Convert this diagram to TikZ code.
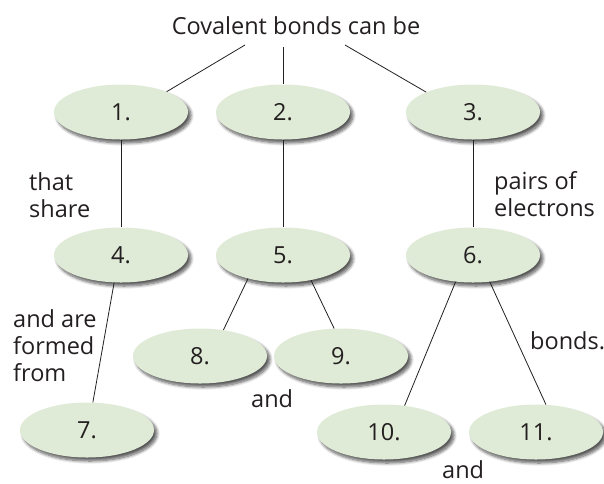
\documentclass[tikz,border=0pt]{standalone}
\usepackage{fontspec}
\setmainfont{Open Sans}
\usetikzlibrary{shapes.geometric,shadows.blur}
\definecolor{ellfill}{HTML}{DFEBD6}
\definecolor{ink}{HTML}{231F20}
\tikzset{
  bubble/.style={ellipse, fill=ellfill, minimum width=134pt, minimum height=55pt, inner sep=0pt,
    text=ink, font=\fontsize{23.5}{27}\selectfont,
    blur shadow={shadow xshift=3pt, shadow yshift=-3.5pt, shadow blur steps=8, shadow blur radius=3pt, shadow opacity=65}},
  lbl/.style={inner sep=0pt, text=ink, align=left, anchor=north west, font=\fontsize{23.5}{27}\selectfont},
  conn/.style={draw=ink, line width=0.8pt}
}
\begin{document}
\begin{tikzpicture}[x=1pt,y=-1pt]
\useasboundingbox (0,0) rectangle (604,483);
\node[lbl, anchor=north] (title) at (296,16) {Covalent bonds can be};
\coordinate (t1) at (245,45);
\coordinate (t2) at (283,47);
\coordinate (t3) at (345,45);
\node[bubble] (e1) at (121,112) {1.};
\node[bubble] (e2) at (283,112) {2.};
\node[bubble] (e3) at (473,112) {3.};
\node[bubble] (e4) at (121,255) {4.};
\node[bubble] (e5) at (283,255) {5.};
\node[bubble] (e6) at (473,255) {6.};
\node[bubble] (e8) at (200,356) {8.};
\node[bubble] (e9) at (341,356) {9.};
\node[bubble] (e7) at (87,430) {7.};
\node[bubble] (e10) at (384,432) {10.};
\node[bubble] (e11) at (536,432) {11.};
\draw[conn] (t1) -- (e1.24);
\draw[conn] (t2) -- (e2.90);
\draw[conn] (t3) -- (e3.157);
\draw[conn] (e1.south) -- (e4.north);
\draw[conn] (e2.south) -- (e5.north);
\draw[conn] (e3.south) -- (e6.north);
\draw[conn] (e4.-104) -- (e7.78);
\draw[conn] (e5.214) -- (e8.48);
\draw[conn] (e5.-42) -- (e9.104);
\draw[conn] (e6.-123) -- (e10.52);
\draw[conn] (e6.-58) -- (e11.70);
\node[lbl] (l1) at (29,172) {that\\share};
\node[lbl] (l2) at (494,171) {pairs of\\electrons};
\node[lbl] (l3) at (13,309) {and are\\formed\\from};
\node[lbl] (l4) at (530,331) {bonds.};
\node[lbl] (l5) at (251,389) {and};
\node[lbl] (l6) at (442,460) {and};
\end{tikzpicture}
\end{document}
